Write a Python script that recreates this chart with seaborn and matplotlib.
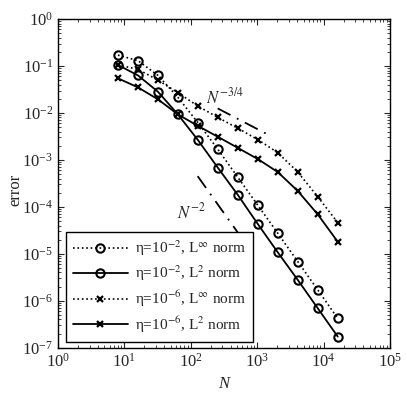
import numpy as np
import pandas as pd
import matplotlib
matplotlib.use("Agg")
import matplotlib.pyplot as plt
import seaborn as sns

# grid sizes
N = [8, 16, 32, 64, 128, 256, 512, 1024, 2048, 4096, 8192, 16384]

# eta = 1e-2
err_e2_inf = [0.17, 0.13, 0.063, 0.0215, 0.0062, 0.00168, 4.25e-4, 1.08e-4, 2.73e-5, 6.8e-6, 1.7e-6, 4.2e-7]
err_e2_l2 = [0.105, 0.063, 0.0283, 0.0093, 0.00265, 6.8e-4, 1.79e-4, 4.3e-5, 1.07e-5, 2.77e-6, 6.9e-7, 1.72e-7]
# eta = 1e-6
err_e6_inf = [0.105, 0.085, 0.05, 0.027, 0.014, 0.008, 0.0047, 0.0027, 0.00142, 5.5e-4, 1.64e-4, 4.6e-5]
err_e6_l2 = [0.0546, 0.035, 0.0195, 0.0093, 0.0053, 0.0031, 0.0018, 0.00104, 5.5e-4, 2.17e-4, 6.9e-5, 1.8e-5]

# reference slopes
ref34_x = [254, 1614]
ref34_y = [0.0125, 0.0032]
ref2_x = [127, 514]
ref2_y = [4.5e-4, 2.8e-5]

sns.set_style("ticks")
plt.rcParams['font.family'] = ['Liberation Serif', 'DejaVu Serif']
plt.rcParams['mathtext.fontset'] = 'stix'
plt.rcParams['xtick.direction'] = 'in'
plt.rcParams['ytick.direction'] = 'in'

fig = plt.figure(figsize=(4.07, 3.96), dpi=100)
ax = fig.add_axes([0.1425, 0.122, 0.8155, 0.83])

ax.set_xscale("log")
ax.set_yscale("log")

sns.lineplot(x=N, y=err_e2_inf, ax=ax, color="black", linestyle=":", linewidth=1.2,
             marker="o", markersize=6, markerfacecolor="none", markeredgecolor="black",
             markeredgewidth=1.5, label="η=10$^{-2}$, L$^{\\infty}$ norm")
sns.lineplot(x=N, y=err_e2_l2, ax=ax, color="black", linestyle="-", linewidth=1.3,
             marker="o", markersize=6, markerfacecolor="none", markeredgecolor="black",
             markeredgewidth=1.5, label="η=10$^{-2}$, L$^{2}$ norm")
sns.lineplot(x=N, y=err_e6_inf, ax=ax, color="black", linestyle=":", linewidth=1.2,
             marker="x", markersize=4, markeredgecolor="black",
             markeredgewidth=1.6, label="η=10$^{-6}$, L$^{\\infty}$ norm")
sns.lineplot(x=N, y=err_e6_l2, ax=ax, color="black", linestyle="-", linewidth=1.3,
             marker="x", markersize=4, markeredgecolor="black",
             markeredgewidth=1.6, label="η=10$^{-6}$, L$^{2}$ norm")

ax.plot(ref34_x, ref34_y, color="black", linewidth=1.3, linestyle=(0, (8, 4, 1, 4)))
ax.plot(ref2_x, ref2_y, color="black", linewidth=1.3, linestyle=(0, (8, 4, 1, 4)), zorder=1)
ax.text(330, 0.021, r"$N^{-3/4}$", fontsize=12, ha="center", va="center")
ax.text(103, 7.6e-5, r"$N^{-2}$", fontsize=12, ha="center", va="center")

ax.set_xlim(1, 1e5)
ax.set_ylim(1e-7, 1)
ax.set_xticks([1, 10, 100, 1e3, 1e4, 1e5])
ax.set_yticks([1e-7, 1e-6, 1e-5, 1e-4, 1e-3, 1e-2, 1e-1, 1])
ax.tick_params(which="both", top=True, right=True, labelsize=12)
ax.tick_params(which="major", length=4)
ax.tick_params(which="minor", length=2)
for s in ax.spines.values():
    s.set_linewidth(1.0)
    s.set_color("black")
ax.set_xlabel("N", fontsize=12, style="italic")
ax.set_ylabel("error", fontsize=12)
ax.yaxis.set_label_coords(-0.105, 0.48)

leg = ax.legend(loc="lower left", bbox_to_anchor=(0.024, 0.018), fontsize=11, frameon=True,
                fancybox=False, edgecolor="black", framealpha=1, handlelength=3.6,
                handletextpad=0.5, borderpad=0.45, labelspacing=0.35, borderaxespad=0)
leg.get_frame().set_linewidth(1.0)

fig.savefig("out.png", dpi=100)
